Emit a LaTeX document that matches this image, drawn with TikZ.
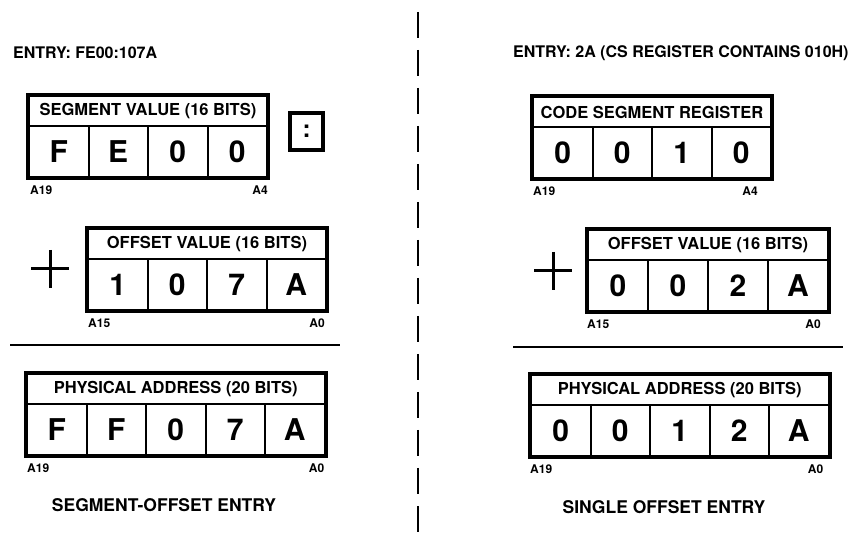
\documentclass[tikz,border=0pt]{standalone}
\usepackage{fontspec}
\setmainfont{TeX Gyre Heros}
\usetikzlibrary{calc}

\begin{document}
\begin{tikzpicture}[
  x=1pt,y=-1pt,
  entrytitle/.style={font=\fontsize{16}{19}\selectfont\bfseries,
    inner sep=0pt,anchor=west},
  modecaption/.style={font=\fontsize{17.5}{20}\selectfont\bfseries,inner sep=0pt},
  fieldhead/.style={draw,line width=2pt,anchor=north west,inner sep=0pt,
    minimum height=30pt,font=\fontsize{16.5}{19}\selectfont\bfseries},
  nibble/.style={draw,line width=2pt,anchor=north west,inner sep=0pt,
    minimum width=59.5pt,minimum height=51pt,
    font=\fontsize{30}{34}\selectfont\bfseries},
  regframe/.style={line width=4pt},
  bitno/.style={font=\fontsize{12}{14}\selectfont\bfseries,inner sep=0pt},
  plusbar/.style={line width=3pt},
  sumrule/.style={line width=2pt},
  divider/.style={line width=2pt,dash pattern=on 26pt off 12pt},
  colonbox/.style={draw,line width=4pt,minimum width=33pt,minimum height=37pt,
    inner sep=0pt,font=\fontsize{24}{28}\selectfont\bfseries}
]
\useasboundingbox (0,0) rectangle (863,537);

% Left half: segment and offset given explicitly.
\node[entrytitle] (entryL) at (13,53) {ENTRY: FE00:107A};

\node[fieldhead,minimum width=238pt] (segH) at (28,95) {SEGMENT VALUE (16 BITS)};
\foreach \d [count=\i] in {F,E,0,0}
  \node[nibble] (seg\i) at (28+59.5*\i-59.5,125) {\d};
\draw[regframe] (segH.north west) rectangle (seg4.south east);
\node[bitno,anchor=north west] (segMSB) at ($(seg1.south west)+(2,8)$) {A19};
\node[bitno,anchor=north east] (segLSB) at ($(seg4.south east)+(0,8)$) {A4};
\node[colonbox] (colon) at (306.5,131.5) {:};

\coordinate (plusL) at (50,269);
\draw[plusbar] ($(plusL)+(-19,0)$) -- ($(plusL)+(19,0)$);
\draw[plusbar] ($(plusL)+(0,-19)$) -- ($(plusL)+(0,19)$);
\node[fieldhead,minimum width=238pt] (offH) at (87,228) {OFFSET VALUE (16 BITS)};
\foreach \d [count=\i] in {1,0,7,A}
  \node[nibble] (off\i) at (87+59.5*\i-59.5,258) {\d};
\draw[regframe] (offH.north west) rectangle (off4.south east);
\node[bitno,anchor=north west] (offMSB) at ($(off1.south west)+(1,8)$) {A15};
\node[bitno,anchor=north east] (offLSB) at ($(off4.south east)+(-2,8)$) {A0};

\draw[sumrule] (10,345) -- (340,345);

\node[fieldhead,minimum width=297.5pt] (physH) at (26,373) {PHYSICAL ADDRESS (20 BITS)};
\foreach \d [count=\i] in {F,F,0,7,A}
  \node[nibble] (phys\i) at (26+59.5*\i-59.5,403) {\d};
\draw[regframe] (physH.north west) rectangle (phys5.south east);
\node[bitno,anchor=north west] (physMSB) at ($(phys1.south west)+(1,8)$) {A19};
\node[bitno,anchor=north east] (physLSB) at ($(phys5.south east)+(-1,8)$) {A0};
\node[modecaption] (capL) at (164,505) {SEGMENT-OFFSET ENTRY};

% Dashed split between the two cases.
\draw[divider] (418,12) -- (418,537);

% Right half: offset only, segment taken from CS.
\node[entrytitle] (entryR) at (513,53) {ENTRY: 2A (CS REGISTER CONTAINS 010H)};

\node[fieldhead,minimum width=238pt] (csH) at (532,96) {CODE SEGMENT REGISTER};
\foreach \d [count=\i] in {0,0,1,0}
  \node[nibble] (cs\i) at (532+59.5*\i-59.5,126) {\d};
\draw[regframe] (csH.north west) rectangle (cs4.south east);
\node[bitno,anchor=north west] (csMSB) at ($(cs1.south west)+(1,8)$) {A19};
\node[bitno,anchor=north east] (csLSB) at ($(cs4.south east)+(-14,8)$) {A4};

\coordinate (plusR) at (553,271);
\draw[plusbar] ($(plusR)+(-19,0)$) -- ($(plusR)+(19,0)$);
\draw[plusbar] ($(plusR)+(0,-19)$) -- ($(plusR)+(0,19)$);
\node[fieldhead,minimum width=240pt] (ipH) at (587,229) {OFFSET VALUE (16 BITS)};
\foreach \d [count=\i] in {0,0,2,A}
  \node[nibble,minimum width=60pt] (ip\i) at (587+60*\i-60,259) {\d};
\draw[regframe] (ipH.north west) rectangle (ip4.south east);
\node[bitno,anchor=north west] (ipMSB) at ($(ip1.south west)+(0,8)$) {A15};
\node[bitno,anchor=north east] (ipLSB) at ($(ip4.south east)+(-8,8)$) {A0};

\draw[sumrule] (513,347) -- (843,347);

\node[fieldhead,minimum width=297.5pt] (addrH) at (530,374) {PHYSICAL ADDRESS (20 BITS)};
\foreach \d [count=\i] in {0,0,1,2,A}
  \node[nibble] (addr\i) at (530+59.5*\i-59.5,404) {\d};
\draw[regframe] (addrH.north west) rectangle (addr5.south east);
\node[bitno,anchor=north west] (addrMSB) at ($(addr1.south west)+(0,8)$) {A19};
\node[bitno,anchor=north east] (addrLSB) at ($(addr5.south east)+(-6,8)$) {A0};
\node[modecaption] (capR) at (664,507) {SINGLE OFFSET ENTRY};
\end{tikzpicture}
\end{document}
